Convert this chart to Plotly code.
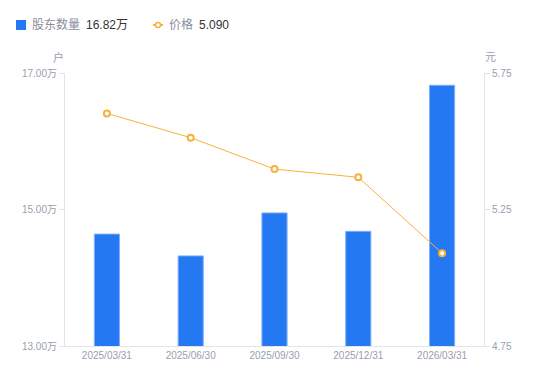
import plotly.graph_objects as go

categories = ["2025/03/31", "2025/06/30", "2025/09/30", "2025/12/31", "2026/03/31"]
holders = [14.64, 14.32, 14.95, 14.68, 16.82]   # 万户
price = [5.602, 5.513, 5.398, 5.368, 5.090]      # 元
left_ticks = [13.0, 15.0, 17.0]
left_ticktext = ["13.00万", "15.00万", "17.00万"]
right_ticks = [4.75, 5.25, 5.75]
right_ticktext = ["4.75", "5.25", "5.75"]

font_family = "'Liberation Sans', Arial, 'Noto Sans CJK SC', sans-serif"
gray = "#9a9eae"
axis_line = "#e3e4e8"
blue = "#2478f2"
orange = "#f7b23b"

# plot area in page pixels: x 65..484, y 73..346 (page has 8px body offset)
PX0, PX1, PY0, PY1 = 65, 484, 73, 346
PW, PH = PX1 - PX0, PY1 - PY0


def px(x):
    return (x - PX0) / PW


def py(y):
    return (PY1 - y) / PH


fig = go.Figure()
fig.add_trace(go.Bar(
    x=categories, y=holders, name="股东数量",
    marker=dict(color=blue, line=dict(color="#7fb0f7", width=1)),
    width=0.3, yaxis="y", base=0,
    showlegend=False,
))
fig.add_trace(go.Scatter(
    x=categories, y=price, name="价格", mode="lines+markers", yaxis="y2",
    line=dict(color=orange, width=1),
    marker=dict(symbol="circle", size=6, color="white", line=dict(color=orange, width=2)),
    showlegend=False,
))

fig.update_layout(
    width=550, height=381,
    margin=dict(l=PX0 - 8, r=550 - (PX1 - 8), t=PY0 - 8, b=381 - (PY1 - 8)),
    paper_bgcolor="white", plot_bgcolor="white",
    font=dict(family=font_family, size=10, color=gray),
    xaxis=dict(
        showline=True, linecolor=axis_line, linewidth=1,
        ticks="", showgrid=False, tickfont=dict(size=10, color=gray),
        range=[-0.5, 4.5], automargin=False,
    ),
    yaxis=dict(
        range=[13, 17], tickvals=left_ticks, ticktext=left_ticktext,
        showline=True, linecolor=axis_line, linewidth=1,
        ticks="outside", ticklen=5, tickcolor=axis_line,
        showgrid=False, zeroline=False, tickfont=dict(size=10, color=gray),
        automargin=False,
    ),
    yaxis2=dict(
        range=[4.75, 5.75], tickvals=right_ticks, ticktext=right_ticktext,
        overlaying="y", side="right",
        showline=True, linecolor=axis_line, linewidth=1,
        ticks="outside", ticklen=5, tickcolor=axis_line,
        showgrid=False, zeroline=False, tickfont=dict(size=10, color=gray),
        automargin=False,
    ),
)

# axis unit labels
fig.add_annotation(text="户", xref="paper", yref="paper", x=px(58), y=py(57),
                   showarrow=False, font=dict(size=11, color=gray), xanchor="center", yanchor="middle")
fig.add_annotation(text="元", xref="paper", yref="paper", x=px(490), y=py(57),
                   showarrow=False, font=dict(size=11, color=gray), xanchor="center", yanchor="middle")

# custom legend
LY = 25
fig.add_shape(type="rect", xref="paper", yref="paper",
              x0=px(16), x1=px(26), y0=py(LY + 5), y1=py(LY - 5),
              fillcolor=blue, line=dict(width=0))
fig.add_annotation(text="股东数量", xref="paper", yref="paper", x=px(30), y=py(LY),
                   xanchor="left", yanchor="middle", showarrow=False,
                   font=dict(size=12, color="#8a8e9c"))
fig.add_annotation(text="16.82万", xref="paper", yref="paper", x=px(84), y=py(LY),
                   xanchor="left", yanchor="middle", showarrow=False,
                   font=dict(size=12, color="#333333"))
fig.add_shape(type="line", xref="paper", yref="paper",
              x0=px(153), x1=px(163), y0=py(LY), y1=py(LY),
              line=dict(color=orange, width=2))
fig.add_shape(type="circle", xref="paper", yref="paper",
              x0=px(155.5), x1=px(160.5), y0=py(LY + 2.5), y1=py(LY - 2.5),
              fillcolor="white", line=dict(color=orange, width=1.5))
fig.add_annotation(text="价格", xref="paper", yref="paper", x=px(167), y=py(LY),
                   xanchor="left", yanchor="middle", showarrow=False,
                   font=dict(size=12, color="#8a8e9c"))
fig.add_annotation(text="5.090", xref="paper", yref="paper", x=px(197), y=py(LY),
                   xanchor="left", yanchor="middle", showarrow=False,
                   font=dict(size=12, color="#333333"))

fig.write_html("out.html")
